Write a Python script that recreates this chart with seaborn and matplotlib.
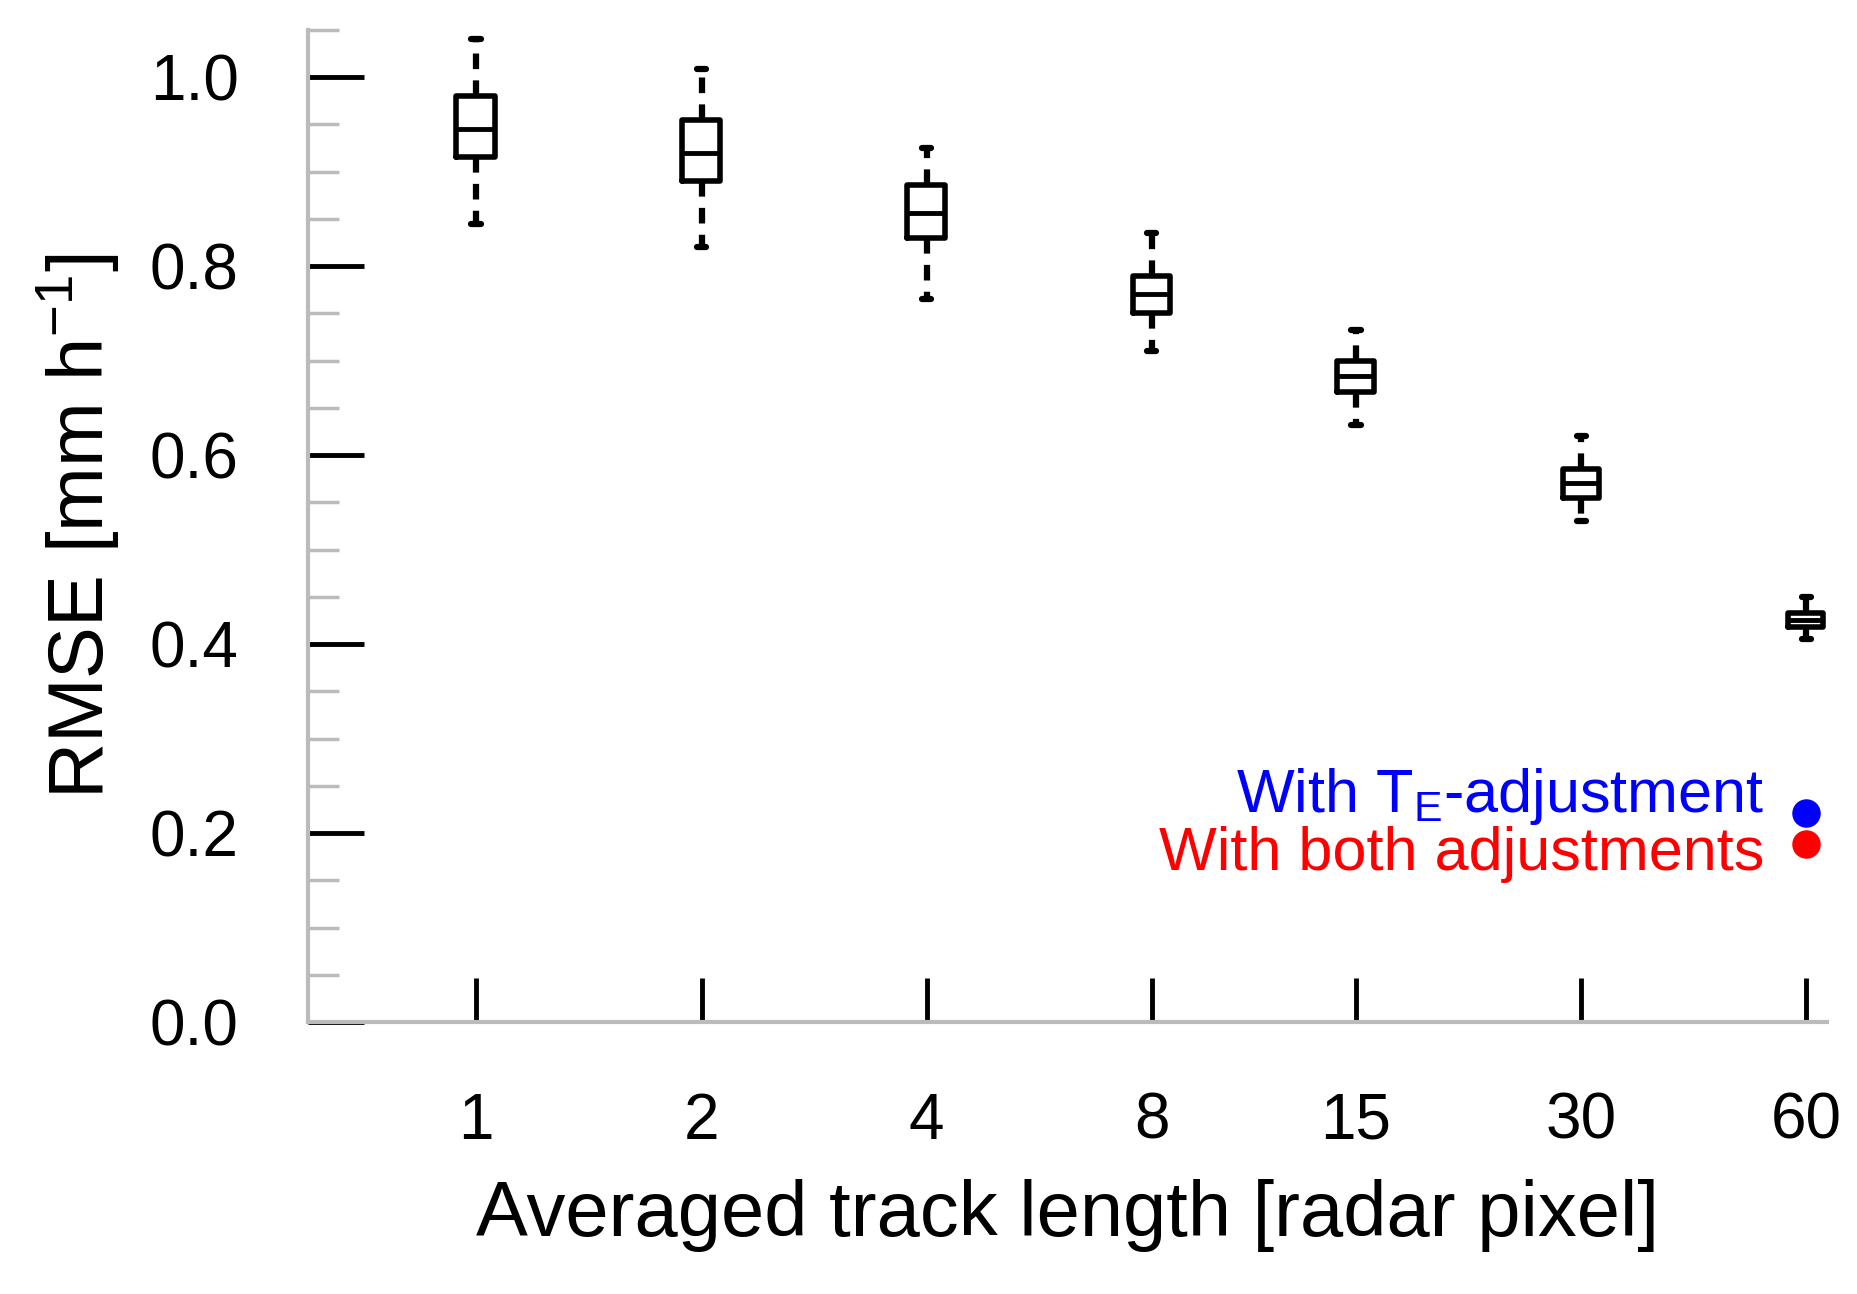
import matplotlib
matplotlib.use("Agg")
import matplotlib.pyplot as plt
import seaborn as sns
from matplotlib.ticker import MultipleLocator, FixedLocator, NullLocator

# box statistics
track_length = [1, 2, 4, 8, 15, 30, 60]
whisker_low = [0.845, 0.82, 0.765, 0.71, 0.632, 0.53, 0.405]
q1 = [0.915, 0.89, 0.83, 0.75, 0.667, 0.555, 0.418]
median = [0.945, 0.92, 0.856, 0.77, 0.684, 0.57, 0.426]
q3 = [0.98, 0.955, 0.886, 0.79, 0.70, 0.585, 0.433]
whisker_high = [1.04, 1.008, 0.925, 0.835, 0.732, 0.62, 0.45]

te_rmse = 0.221
both_rmse = 0.189

sns.set_theme(style="white")
plt.rcParams["font.family"] = ["Liberation Sans", "DejaVu Sans"]
plt.rcParams["text.color"] = "black"
plt.rcParams["axes.labelcolor"] = "black"
plt.rcParams["xtick.color"] = "black"
plt.rcParams["ytick.color"] = "black"

fig = plt.figure(figsize=(18.57, 12.94), dpi=100)
ax = fig.add_axes([0.166, 0.21, 0.818, 0.767])

stats = []
for i in range(len(track_length)):
    stats.append(dict(whislo=whisker_low[i], q1=q1[i], med=median[i],
                      q3=q3[i], whishi=whisker_high[i], fliers=[]))
widths = [0.12 * x * (1 - 0.1 * i / 6) for i, x in enumerate(track_length)]
ax.bxp(stats, positions=track_length, widths=widths, showfliers=False,
       boxprops=dict(color="black", linewidth=4),
       medianprops=dict(color="black", linewidth=3.5),
       whiskerprops=dict(color="black", linewidth=4.5, linestyle=(0, (2.5, 1.8))),
       capprops=dict(color="black", linewidth=4.5), capwidths=[w * 0.25 for w in widths],
       manage_ticks=False)

ax.scatter([60], [te_rmse], color="blue", s=380, zorder=5)
ax.scatter([60], [both_rmse], color="red", s=380, zorder=5)
ax.annotate("With T$_\\mathregular{E}$-adjustment", (60, te_rmse), xytext=(-30, 12),
            textcoords="offset points", ha="right", va="center", color="blue", fontsize=44)
ax.annotate("With both adjustments", (60, both_rmse), xytext=(-30, -8),
            textcoords="offset points", ha="right", va="center", color="red", fontsize=44)

ax.set_xscale("log")
ax.set_xlim(0.596, 64)
ax.set_ylim(0, 1.05)
ax.xaxis.set_major_locator(FixedLocator(track_length))
ax.xaxis.set_minor_locator(NullLocator())
ax.set_xticklabels([str(t) for t in track_length])
ax.yaxis.set_major_locator(MultipleLocator(0.2))
ax.yaxis.set_minor_locator(MultipleLocator(0.05))
ax.yaxis.set_major_formatter(matplotlib.ticker.FormatStrFormatter("%.1f"))

ax.tick_params(axis="y", which="major", direction="in", length=40, width=3.5,
               color="black", labelsize=46, pad=50, left=True)
ax.tick_params(axis="y", which="minor", direction="in", length=22, width=2.5,
               color="#bbbbbb", left=True)
ax.tick_params(axis="x", which="major", direction="in", length=32, width=3.5,
               color="black", labelsize=46, pad=50, bottom=True)

for side in ["top", "right"]:
    ax.spines[side].set_visible(False)
for side in ["left", "bottom"]:
    ax.spines[side].set_color("#bbbbbb")
    ax.spines[side].set_linewidth(3)

ax.set_xlabel("Averaged track length [radar pixel]", fontsize=56, labelpad=20)
ax.set_ylabel("RMSE [mm h$^\\mathregular{-1}$]", fontsize=56, labelpad=20)

fig.savefig("out.png", dpi=100)
